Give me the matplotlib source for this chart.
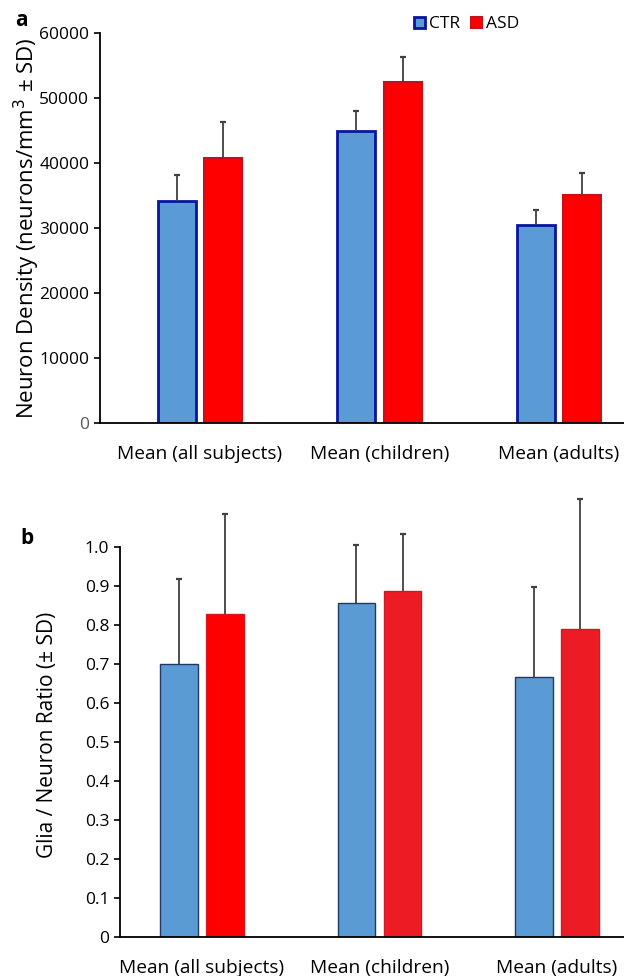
import matplotlib
matplotlib.use("Agg")
import matplotlib.pyplot as plt
import numpy as np

plt.rcParams["font.family"] = ["Open Sans", "DejaVu Sans"]

groups = ["Mean (all subjects)", "Mean (children)", "Mean (adults)"]

# panel a: neuron density
dens_ctr = [34100, 44900, 30500]
dens_ctr_sd = [4000, 3100, 2300]
dens_asd = [40800, 52400, 35000]
dens_asd_sd = [5500, 3900, 3500]

# panel b: glia / neuron ratio
ratio_ctr = [0.699, 0.857, 0.667]
ratio_ctr_sd = [0.219, 0.149, 0.230]
ratio_asd = [0.828, 0.887, 0.789]
ratio_asd_sd = [0.257, 0.147, 0.335]

CTR_FILL = "#5B9BD5"
fig = plt.figure(figsize=(6.24, 9.76), dpi=100)

x = np.arange(len(groups))
bw = 0.212
off = 0.13


def up_err(ax, xs, vals, sds):
    # one-sided (upper) error bars with a small top cap
    tops = np.array(vals) + np.array(sds)
    ax.vlines(xs, vals, tops, color="#404040", lw=1.3, zorder=3, clip_on=False)
    ax.plot(xs, tops, ls="none", marker="_", ms=4, mew=1.6, color="#404040",
            zorder=3, clip_on=False)


def style(ax):
    for s in ("top", "right"):
        ax.spines[s].set_visible(False)
    ax.spines["left"].set_linewidth(1.3)
    ax.spines["bottom"].set_linewidth(1.3)
    ax.tick_params(axis="y", direction="out", length=4.3, width=1.2, labelsize=12.5, pad=3.5)
    ax.tick_params(axis="x", length=0, labelsize=13.8, pad=15.5)
    ax.set_xticks(x)
    ax.set_xticklabels(groups)


# ---- panel a
ax1 = fig.add_axes([100 / 624, 1 - 423 / 976, 524 / 624, 390 / 976])
ax1.bar(x - off, dens_ctr, bw, color=CTR_FILL, edgecolor="#0A14A0", linewidth=2,
        label="CTR", zorder=2)
ax1.bar(x + off, dens_asd, bw, color="#FF0000", edgecolor="#C8101A", linewidth=1.5,
        label="ASD", zorder=2)
up_err(ax1, x - off, dens_ctr, dens_ctr_sd)
up_err(ax1, x + off, dens_asd, dens_asd_sd)
ax1.set_xlim(-0.557, 2.362)
ax1.set_ylim(0, 60000)
ax1.set_yticks(np.arange(0, 60001, 10000))
style(ax1)
ax1.get_yticklabels()[0].set_color("#595959")
fig.text(27 / 624, 1 - 228 / 976, "Neuron Density (neurons/mm$^3$ ± SD)", fontsize=16,
         rotation=90, ha="center", va="center")
ax1.legend(loc="center right", bbox_to_anchor=(0.801, 1.022), ncol=2, frameon=False,
           fontsize=12.5, handlelength=0.62, handleheight=0.62, handletextpad=0.25,
           columnspacing=0.65, borderaxespad=0, borderpad=0)
fig.text(21 / 624, 1 - 21 / 976, "a", fontsize=15, fontweight="bold", ha="center", va="center")

# ---- panel b
ax2 = fig.add_axes([120 / 624, 1 - 937 / 976, 504 / 624, 390 / 976])
ax2.bar(x - off, ratio_ctr, bw, color=CTR_FILL, edgecolor="#1F3864", linewidth=1.0, zorder=2)
ax2.bar(x + off, ratio_asd, bw, color=["#FF0000", "#ED1C24", "#ED1C24"],
        edgecolor="#D01A22", linewidth=1.0, zorder=2)
up_err(ax2, x - off, ratio_ctr, ratio_ctr_sd)
up_err(ax2, x + off, ratio_asd, ratio_asd_sd)
ax2.set_xlim(-0.462, 2.377)
ax2.set_ylim(0, 1.0)
ax2.set_yticks(np.arange(0, 1.01, 0.1))
ax2.set_yticklabels(["0"] + [f"{v:.1f}" for v in np.arange(0.1, 1.01, 0.1)])
style(ax2)
fig.text(48 / 624, 1 - 735 / 976, "Glia / Neuron Ratio (± SD)", fontsize=15,
         rotation=90, ha="center", va="center")
fig.text(27 / 624, 1 - 539 / 976, "b", fontsize=15, fontweight="bold", ha="center", va="center")

fig.savefig("out.png", dpi=100)
